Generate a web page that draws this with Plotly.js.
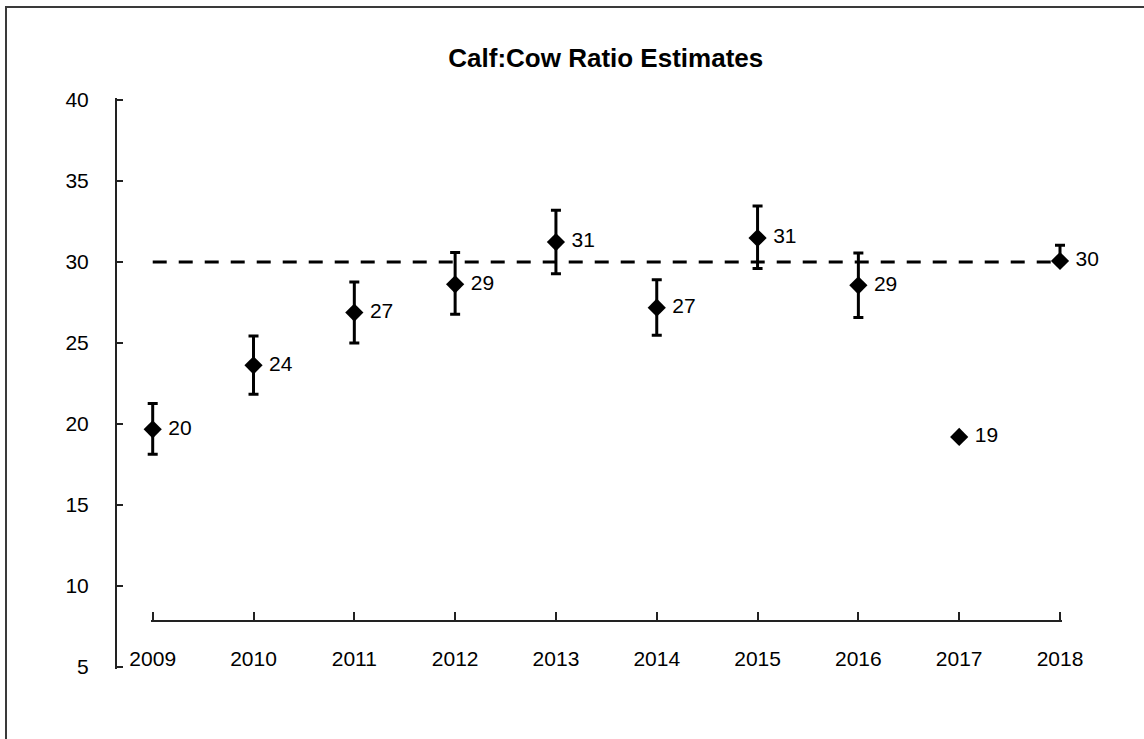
<!DOCTYPE html>
<html>
<head>
<meta charset="utf-8">
<script src="https://cdn.plot.ly/plotly-3.0.1.min.js"></script>
<style>
  html, body { margin: 0; padding: 0; background: #fff; }
  #wrap { position: relative; width: 1144px; height: 739px; overflow: hidden; }
  #frame { position: absolute; left: 5px; top: 6px; width: 1200px; height: 800px;
           border-top: 2px solid #3a3a3a; border-left: 2px solid #3a3a3a; pointer-events: none; }
</style>
</head>
<body>
<div id="wrap">
  <div id="chart"></div>
  <div id="frame"></div>
</div>
<script>
// ---- data ----
const years = [2009, 2010, 2011, 2012, 2013, 2014, 2015, 2016, 2017, 2018];
const ratio = [19.67, 23.62, 26.88, 28.62, 31.23, 27.18, 31.48, 28.56, 19.2, 30.06];
const errPlus  = [1.59, 1.81, 1.89, 1.96, 1.96, 1.73, 1.98, 2.0, null, 0.97];
const errMinus = [1.54, 1.79, 1.88, 1.85, 1.95, 1.70, 1.89, 1.98, null, 0];
const target = 30;
const tickYears = years.map(String);
const titleText = 'Calf:Cow Ratio Estimates';

const FONT = '"Liberation Sans", Arial, sans-serif';
const labels = ratio.map(v => String(Math.round(v)));

const traces = [
  {
    x: years,
    y: years.map(() => target),
    xaxis: 'x2', yaxis: 'y',
    mode: 'lines',
    line: { color: '#000', width: 3, dash: '14px,12px' },
    hoverinfo: 'skip',
    showlegend: false,
    cliponaxis: false
  },
  {
    x: years,
    y: ratio,
    xaxis: 'x', yaxis: 'y',
    mode: 'markers+text',
    marker: { symbol: 'diamond', size: 14, color: '#000' },
    error_y: {
      type: 'data', symmetric: false,
      array: errPlus, arrayminus: errMinus,
      color: '#000', thickness: 3, width: 5
    },
    text: labels,
    texttemplate: ' %{text}',
    textposition: 'middle right',
    textfont: { family: FONT, size: 21, color: '#000' },
    cliponaxis: false,
    showlegend: false
  }
];

const layout = {
  width: 1144, height: 739,
  margin: { l: 116, r: 40, t: 98, b: 70, pad: 0 },
  paper_bgcolor: '#fff', plot_bgcolor: 'rgba(0,0,0,0)',
  font: { family: FONT, size: 21, color: '#000' },
  title: {
    text: titleText,
    font: { family: FONT, size: 26, weight: 'bold', color: '#000' },
    xref: 'container', yref: 'container',
    x: 0.5295, xanchor: 'center',
    y: 1 - 58 / 739, yanchor: 'middle'
  },
  xaxis: {
    domain: [0, 1],
    range: [2008.636, 2018.4365],
    visible: false,
    showgrid: false, zeroline: false
  },
  xaxis2: {
    domain: [0.03512, 0.95749],
    range: [2008.98, 2018.02],
    anchor: 'free', position: 0.084,
    showline: true, linecolor: '#222', linewidth: 2,
    ticks: 'inside', ticklen: 8, tickwidth: 2, tickcolor: '#222',
    tickvals: years, ticktext: tickYears,
    ticklabelstandoff: 19,
    showgrid: false, zeroline: false,
    tickfont: { family: FONT, size: 21, color: '#000' }
  },
  yaxis: {
    range: [4.88, 40.12],
    anchor: 'free', position: 0,
    showline: true, linecolor: '#222', linewidth: 2,
    ticks: 'inside', ticklen: 6, tickwidth: 2, tickcolor: '#222',
    tickvals: [5, 10, 15, 20, 25, 30, 35, 40],
    ticklabelstandoff: 22,
    showgrid: false, zeroline: false,
    tickfont: { family: FONT, size: 21, color: '#000' }
  }
};

Plotly.newPlot('chart', traces, layout, { displayModeBar: false, staticPlot: true });
</script>
</body>
</html>
